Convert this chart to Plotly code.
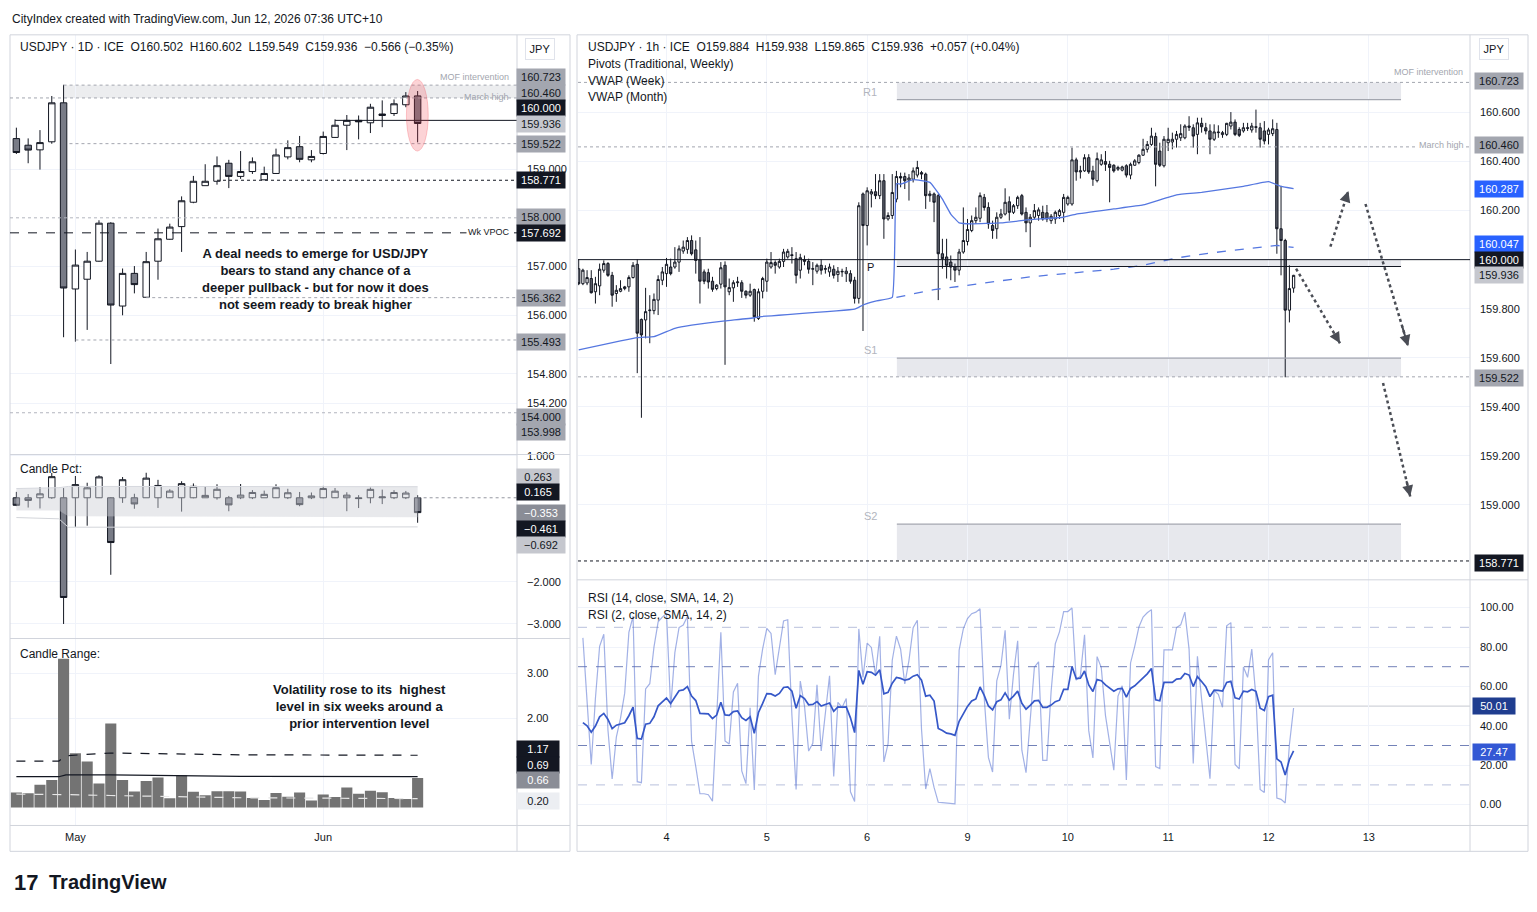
import plotly.graph_objects as go

W, H = 1537, 912
def fx(x): return x / W
def fy(y): return 1 - y / H

# ---------------- DAILY DATA (left chart) ----------------
d_x = list(range(1, 36))
d_open = [159.626, 159.49, 159.395, 159.56, 160.36, 156.54, 156.74, 157.11, 157.89, 156.19,
          156.86, 156.37, 157.11, 157.56, 157.82, 158.32, 158.66, 158.75, 159.12, 158.85,
          158.95, 158.78, 158.91, 159.25, 159.46, 159.19, 159.32, 159.65, 159.90, 160.00,
          159.95, 160.10, 160.14, 160.32, 160.502]
d_high = [159.85, 159.63, 159.80, 160.50, 160.73, 157.35, 157.30, 157.95, 157.91, 156.96,
          157.01, 157.30, 157.78, 157.88, 158.44, 158.86, 159.10, 159.26, 159.19, 159.37,
          159.24, 159.05, 159.42, 159.59, 159.68, 159.39, 159.77, 160.02, 160.11, 160.10,
          160.34, 160.41, 160.43, 160.58, 160.602]
d_low = [159.31, 159.12, 158.99, 159.52, 155.55, 155.46, 155.70, 157.10, 155.00, 156.00,
         156.45, 156.37, 156.73, 157.55, 157.30, 158.30, 158.66, 158.68, 158.61, 158.80,
         158.90, 158.78, 158.90, 159.20, 159.14, 159.14, 159.30, 159.64, 159.39, 159.61,
         159.74, 159.86, 160.09, 160.27, 159.549]
d_close = [159.34, 159.39, 159.544, 160.36, 156.56, 157.03, 157.11, 157.89, 156.21, 156.86,
           156.63, 157.10, 157.57, 157.81, 158.35, 158.75, 158.75, 159.07, 158.85, 158.95,
           159.15, 158.91, 159.29, 159.44, 159.20, 159.26, 159.67, 159.90, 160.00, 159.97,
           160.27, 160.13, 160.34, 160.50, 159.936]
month_ticks = [6, 27]
month_labels = ["May", "Jun"]

# Candle Pct band readings
pct_band_x = [1, 4.6, 5.4, 20, 35]
pct_band_up = [0.22, 0.24, 0.27, 0.27, 0.263]
pct_band_mid = [-0.30, -0.30, -0.44, -0.45, -0.461]
pct_band_low = [-0.47, -0.50, -0.70, -0.70, -0.692]

# Candle Range line readings
rng_line_x = [1, 4.6, 5.2, 9, 20, 35]
rng_dash = [1.04, 1.04, 1.16, 1.22, 1.18, 1.17]
rng_solid = [0.69, 0.69, 0.73, 0.73, 0.70, 0.69]
rng_light = [0.30, 0.30, 0.29, 0.27, 0.22, 0.20]

# ---------------- HOURLY DATA (right chart) ----------------
h_x = list(range(3, 175))
h_open = [
    159.963, 159.902, 159.905, 159.923, 159.869, 159.893, 159.957, 159.984, 159.936, 159.862,
    159.871, 159.882, 159.889, 159.927, 159.981, 159.756, 159.754, 159.792, 159.792, 159.835,
    159.916, 159.943, 159.970, 159.970, 159.990, 160.035, 160.042, 160.078, 160.040, 159.999,
    159.950, 159.947, 159.912, 159.882, 159.900, 159.977, 159.869, 159.885, 159.906, 159.906,
    159.871, 159.855, 159.878, 159.760, 159.871, 159.912, 159.970, 159.988, 159.970, 159.993,
    160.011, 160.020, 160.004, 159.957, 160.000, 159.993, 159.961, 159.953, 159.977, 159.961,
    159.950, 159.961, 159.939, 159.950, 159.943, 159.943, 159.916, 159.842, 160.268, 160.139,
    160.268, 160.277, 160.261, 160.322, 160.166, 160.180, 160.247, 160.339, 160.339, 160.324,
    160.328, 160.345, 160.355, 160.349, 160.261, 160.268, 160.261, 160.024, 160.011, 159.990,
    159.970, 159.957, 160.031, 160.074, 160.119, 160.159, 160.169, 160.254, 160.213, 160.139,
    160.126, 160.173, 160.186, 160.236, 160.193, 160.220, 160.261, 160.193, 160.150, 160.173,
    160.180, 160.193, 160.191, 160.159, 160.166, 160.180, 160.193, 160.227, 160.227, 160.407,
    160.358, 160.362, 160.416, 160.362, 160.322, 160.389, 160.400, 160.389, 160.385, 160.369,
    160.365, 160.383, 160.345, 160.385, 160.396, 160.426, 160.450, 160.470, 160.502, 160.443,
    160.383, 160.477, 160.480, 160.491, 160.497, 160.497, 160.545, 160.538, 160.511, 160.556,
    160.538, 160.525, 160.491, 160.518, 160.510, 160.511, 160.545, 160.561, 160.531, 160.525,
    160.538, 160.529, 160.542, 160.538, 160.525, 160.511, 160.514, 160.531, 160.126, 160.078,
    159.794, 159.884]
h_high = [
    160.001, 159.963, 159.957, 159.957, 159.930, 159.984, 159.997, 159.990, 159.950, 159.896,
    159.916, 159.893, 159.936, 159.990, 160.001, 159.760, 159.885, 159.855, 159.862, 159.936,
    159.970, 160.007, 160.004, 160.051, 160.058, 160.078, 160.092, 160.099, 160.078, 160.092,
    159.960, 159.963, 159.930, 159.900, 159.990, 159.993, 159.923, 159.916, 159.930, 159.916,
    159.875, 159.902, 159.882, 159.882, 159.930, 160.004, 160.031, 159.997, 160.004, 160.044,
    160.044, 160.051, 160.031, 160.024, 160.017, 160.004, 159.990, 159.984, 160.001, 159.977,
    159.984, 159.977, 159.970, 159.963, 159.970, 159.957, 159.930, 160.234, 160.274, 160.295,
    160.288, 160.349, 160.349, 160.349, 160.193, 160.349, 160.362, 160.355, 160.355, 160.349,
    160.376, 160.403, 160.362, 160.355, 160.281, 160.274, 160.268, 160.085, 160.085, 160.017,
    159.984, 160.044, 160.213, 160.166, 160.180, 160.213, 160.274, 160.268, 160.234, 160.159,
    160.193, 160.207, 160.291, 160.258, 160.227, 160.261, 160.268, 160.213, 160.186, 160.227,
    160.213, 160.220, 160.223, 160.186, 160.200, 160.207, 160.268, 160.261, 160.457, 160.416,
    160.383, 160.430, 160.430, 160.383, 160.437, 160.430, 160.443, 160.403, 160.389, 160.383,
    160.383, 160.389, 160.396, 160.410, 160.430, 160.493, 160.484, 160.538, 160.518, 160.477,
    160.504, 160.538, 160.518, 160.525, 160.552, 160.552, 160.585, 160.552, 160.579, 160.579,
    160.558, 160.552, 160.552, 160.548, 160.525, 160.558, 160.602, 160.572, 160.540, 160.558,
    160.558, 160.558, 160.612, 160.558, 160.565, 160.538, 160.572, 160.558, 160.301, 160.085,
    159.977, 159.938]
h_low = [
    159.896, 159.896, 159.896, 159.862, 159.821, 159.855, 159.947, 159.930, 159.808, 159.828,
    159.867, 159.875, 159.869, 159.923, 159.537, 159.355, 159.679, 159.659, 159.777, 159.774,
    159.896, 159.889, 159.936, 159.963, 159.950, 160.024, 160.024, 160.017, 159.943, 159.821,
    159.900, 159.882, 159.869, 159.875, 159.882, 159.571, 159.855, 159.828, 159.889, 159.844,
    159.842, 159.848, 159.747, 159.754, 159.842, 159.869, 159.963, 159.943, 159.963, 159.970,
    160.004, 159.984, 159.903, 159.923, 159.977, 159.943, 159.896, 159.943, 159.939, 159.943,
    159.930, 159.923, 159.909, 159.930, 159.909, 159.902, 159.821, 159.821, 159.709, 160.058,
    160.213, 160.247, 160.247, 160.085, 160.159, 160.166, 160.234, 160.295, 160.288, 160.241,
    160.315, 160.335, 160.328, 160.207, 160.236, 160.153, 159.835, 159.963, 159.923, 159.916,
    159.909, 159.936, 160.024, 160.058, 160.112, 160.146, 160.153, 160.200, 160.126, 160.085,
    160.085, 160.166, 160.180, 160.159, 160.186, 160.207, 160.180, 160.112, 160.051, 160.166,
    160.159, 160.159, 160.153, 160.146, 160.146, 160.166, 160.153, 160.220, 160.220, 160.322,
    160.331, 160.358, 160.350, 160.301, 160.315, 160.383, 160.362, 160.234, 160.355, 160.362,
    160.360, 160.335, 160.328, 160.383, 160.389, 160.423, 160.437, 160.464, 160.299, 160.378,
    160.376, 160.443, 160.450, 160.457, 160.484, 160.491, 160.525, 160.457, 160.430, 160.518,
    160.511, 160.430, 160.484, 160.497, 160.497, 160.504, 160.531, 160.504, 160.500, 160.518,
    160.525, 160.518, 160.518, 160.457, 160.470, 160.470, 160.504, 160.024, 159.936, 159.520,
    159.744, 159.865]
h_close = [
    159.902, 159.957, 159.927, 159.865, 159.902, 159.961, 159.984, 159.936, 159.855, 159.875,
    159.882, 159.889, 159.927, 159.977, 159.700, 159.693, 159.788, 159.794, 159.838, 159.919,
    159.950, 159.981, 159.943, 159.990, 160.044, 160.051, 160.078, 160.024, 159.997, 159.912,
    159.912, 159.909, 159.879, 159.896, 159.967, 159.889, 159.886, 159.906, 159.909, 159.871,
    159.855, 159.871, 159.767, 159.869, 159.923, 159.990, 159.988, 159.977, 159.993, 160.031,
    160.034, 160.017, 159.936, 160.008, 159.993, 159.961, 159.963, 159.977, 159.957, 159.963,
    159.970, 159.936, 159.953, 159.952, 159.953, 159.912, 159.842, 160.220, 160.139, 160.281,
    160.277, 160.261, 160.322, 160.166, 160.180, 160.274, 160.339, 160.333, 160.322, 160.333,
    160.362, 160.376, 160.349, 160.261, 160.268, 160.234, 160.024, 160.004, 159.977, 159.970,
    159.957, 160.031, 160.078, 160.123, 160.159, 160.173, 160.261, 160.213, 160.146, 160.119,
    160.173, 160.186, 160.234, 160.193, 160.220, 160.254, 160.186, 160.150, 160.173, 160.200,
    160.203, 160.166, 160.166, 160.177, 160.193, 160.200, 160.254, 160.254, 160.407, 160.358,
    160.362, 160.416, 160.358, 160.328, 160.412, 160.407, 160.389, 160.376, 160.362, 160.376,
    160.378, 160.345, 160.389, 160.403, 160.426, 160.450, 160.470, 160.504, 160.389, 160.385,
    160.491, 160.491, 160.491, 160.511, 160.514, 160.545, 160.540, 160.504, 160.558, 160.542,
    160.525, 160.491, 160.521, 160.520, 160.518, 160.556, 160.561, 160.511, 160.507, 160.538,
    160.536, 160.545, 160.540, 160.491, 160.484, 160.529, 160.534, 160.126, 160.078, 159.794,
    159.882, 159.936]

day_ticks = [24, 48, 72, 96, 120, 144, 168, 192]
day_labels = ["4", "5", "6", "9", "10", "11", "12", "13"]

vwap_week_x = [3, 17, 21, 26, 30, 38, 45, 46, 69, 71, 74, 78, 79, 80, 83, 85, 87, 88, 90, 92,
               94, 97, 104, 111, 119, 122, 131, 138, 146, 152, 162, 168, 171, 174]
vwap_week = [159.632, 159.682, 159.686, 159.720, 159.733, 159.750, 159.763, 159.767, 159.798,
             159.815, 159.831, 159.846, 160.310, 160.308, 160.326, 160.322, 160.315, 160.295,
             160.247, 160.186, 160.150, 160.146, 160.150, 160.163, 160.173, 160.186, 160.207,
             160.223, 160.264, 160.274, 160.299, 160.318, 160.299, 160.290]
vwap_month_x = [79, 88, 95, 111, 131, 138, 146, 154, 170, 174]
vwap_month = [159.846, 159.878, 159.893, 159.930, 159.961, 159.977, 160.007, 160.027, 160.058, 160.050]

# weekly pivots (level, zone edge)
pivot_names = ["R1", "P", "S1", "S2"]
pivot_levels = [160.653, 159.972, 159.598, 158.921]
pivot_zone_edge = [160.723, 160.000, 159.522, 158.775]
pivot_start, pivot_end = 79.1, 199.7

# projected path arrows (tail x, tail y, head x, head y)
arrows = [(174.6, 159.963, 185.1, 159.659),
          (182.8, 160.053, 187.1, 160.280),
          (191.2, 160.227, 201.4, 159.647),
          (195.4, 159.497, 201.9, 159.034)]

rsi14_last, rsi2_last = 27.47, 50.01

# ---------------- derived ----------------
pct_o = [0.0 for o in d_open]
pct_h = [(h - o) / o * 100 for h, o in zip(d_high, d_open)]
pct_l = [(l - o) / o * 100 for l, o in zip(d_low, d_open)]
pct_c = [(c - o) / o * 100 for c, o in zip(d_close, d_open)]
rng = [(h - l) / l * 100 for h, l in zip(d_high, d_low)]


def rsi(vals, n):
    diffs = [vals[i] - vals[i - 1] for i in range(1, len(vals))]
    g = [max(d, 0) for d in diffs]
    lo = [max(-d, 0) for d in diffs]
    ag = sum(g[:n]) / n
    al = sum(lo[:n]) / n
    out = [None]
    for i in range(len(diffs)):
        ag = (ag * (n - 1) + g[i]) / n
        al = (al * (n - 1) + lo[i]) / n
        out.append(100.0 if al == 0 else 100 - 100 / (1 + ag / al))
    return out


rsi14 = rsi(h_close, 14)
rsi2 = rsi(h_close, 2)

# ---------------- figure ----------------
TXT = "#131722"
GRID = "#f0f3fa"
FONT = "Liberation Sans"
BEAR = "#787b86"

fig = go.Figure()

cs_style = dict(increasing=dict(line=dict(color=TXT, width=1), fillcolor="#ffffff"),
                decreasing=dict(line=dict(color=TXT, width=1), fillcolor=BEAR),
                whiskerwidth=0, showlegend=False, hoverinfo="skip")

fig.add_trace(go.Candlestick(x=d_x, open=d_open, high=d_high, low=d_low, close=d_close,
                             xaxis="x", yaxis="y", **cs_style))

# candle pct band
fig.add_trace(go.Scatter(x=pct_band_x, y=pct_band_up, mode="lines", line=dict(color="#d6d8de", width=1),
                         xaxis="x2", yaxis="y2", showlegend=False, hoverinfo="skip"))
fig.add_trace(go.Scatter(x=pct_band_x, y=pct_band_mid, mode="lines", line=dict(color="rgba(0,0,0,0)", width=0),
                         fill="tonexty", fillcolor="rgba(205,207,213,0.45)",
                         xaxis="x2", yaxis="y2", showlegend=False, hoverinfo="skip"))
fig.add_trace(go.Scatter(x=pct_band_x, y=pct_band_low, mode="lines", line=dict(color="#d3d5da", width=1),
                         xaxis="x2", yaxis="y2", showlegend=False, hoverinfo="skip"))
fig.add_trace(go.Candlestick(x=d_x, open=pct_o, high=pct_h, low=pct_l, close=pct_c,
                             xaxis="x2", yaxis="y2", **cs_style))

# candle range
fig.add_trace(go.Bar(x=d_x, y=rng, marker=dict(color="#737373", line=dict(width=0)), width=0.94,
                     xaxis="x3", yaxis="y3", showlegend=False, hoverinfo="skip"))
fig.add_trace(go.Scatter(x=rng_line_x, y=rng_light, mode="lines", line=dict(color="#e6e6e6", width=1.2, dash="dash"),
                         xaxis="x3", yaxis="y3", showlegend=False, hoverinfo="skip"))
fig.add_trace(go.Scatter(x=rng_line_x, y=rng_solid, mode="lines", line=dict(color=TXT, width=1.2),
                         xaxis="x3", yaxis="y3", showlegend=False, hoverinfo="skip"))
fig.add_trace(go.Scatter(x=rng_line_x, y=rng_dash, mode="lines", line=dict(color=TXT, width=1.2, dash="dash"),
                         xaxis="x3", yaxis="y3", showlegend=False, hoverinfo="skip"))

# right: hourly
VW = "#5577e0"
fig.add_trace(go.Scatter(x=vwap_month_x, y=vwap_month, mode="lines", line=dict(color=VW, width=1.3, dash="dash"),
                         xaxis="x4", yaxis="y4", showlegend=False, hoverinfo="skip"))
fig.add_trace(go.Scatter(x=vwap_week_x, y=vwap_week, mode="lines", line=dict(color=VW, width=1.3, shape="spline", smoothing=0.3),
                         xaxis="x4", yaxis="y4", showlegend=False, hoverinfo="skip"))
fig.add_trace(go.Candlestick(x=h_x, open=h_open, high=h_high, low=h_low, close=h_close,
                             xaxis="x4", yaxis="y4",
                             increasing=dict(line=dict(color=TXT, width=1), fillcolor="#ffffff"),
                             decreasing=dict(line=dict(color=TXT, width=1), fillcolor="#5d606b"),
                             whiskerwidth=0, showlegend=False, hoverinfo="skip"))

# RSI
fig.add_trace(go.Scatter(x=h_x, y=rsi2, mode="lines", line=dict(color="rgba(70,100,205,0.5)", width=1.2),
                         xaxis="x5", yaxis="y5", showlegend=False, hoverinfo="skip"))
fig.add_trace(go.Scatter(x=h_x, y=rsi14, mode="lines", line=dict(color="#3658c8", width=1.7),
                         xaxis="x5", yaxis="y5", showlegend=False, hoverinfo="skip"))

# ---------------- axes ----------------
L_DOM = [fx(10), fx(517)]
R_DOM = [fx(578), fx(1470)]
L_XR = [0.46, 43.42]
R_XR = [2.83, 216.2]
tickfont = dict(family=FONT, size=11, color=TXT)

def xax(dom, rng_, anchor, tv, tt=None, labels=False):
    d = dict(domain=dom, range=rng_, anchor=anchor, showgrid=True, gridcolor=GRID, zeroline=False,
             showline=False, ticks="", tickvals=tv, showticklabels=labels, tickfont=tickfont,
             ticklabelstandoff=4, rangeslider=dict(visible=False), fixedrange=True)
    if tt is not None:
        d["ticktext"] = tt
    return d

def yax(dom, rng_, anchor, tv, tt):
    return dict(domain=dom, range=rng_, anchor=anchor, side="right", showgrid=True, gridcolor=GRID,
                zeroline=False, showline=False, ticks="", tickvals=tv, ticktext=tt, tickfont=tickfont,
                ticklabelstandoff=9, fixedrange=True)

left_ticks = [154.2, 154.8, 156.0, 157.0, 159.0]
right_ticks = [159.0, 159.2, 159.4, 159.6, 159.8, 160.0, 160.2, 160.4, 160.6]
fig.update_layout(
    xaxis=xax(L_DOM, L_XR, "y", month_ticks),
    xaxis2=xax(L_DOM, L_XR, "y2", month_ticks),
    xaxis3=xax(L_DOM, L_XR, "y3", month_ticks, month_labels, True),
    xaxis4=xax(R_DOM, R_XR, "y4", day_ticks),
    xaxis5=xax(R_DOM, R_XR, "y5", day_ticks, day_labels, True),
    yaxis=yax([fy(452), fy(30)], [153.143, 161.755], "x", left_ticks, [f"{v:.3f}" for v in left_ticks]),
    yaxis2=yax([fy(637), fy(452)], [-3.345, 1.028], "x2", [1, -2, -3], ["1.000", "\u22122.000", "\u22123.000"]),
    yaxis3=yax([fy(825), fy(637)], [-0.40, 3.78], "x3", [2, 3], ["2.00", "3.00"]),
    yaxis4=yax([fy(578), fy(30)], [158.694, 160.917], "x4", right_ticks, [f"{v:.3f}" for v in right_ticks]),
    yaxis5=yax([fy(825), fy(578)], [-10.6, 114.1], "x5", [0, 20, 40, 60, 80, 100],
               ["0.00", "20.00", "40.00", "60.00", "80.00", "100.00"]),
)

shapes = []
anns = []

def pline(x0, y0, x1, y1, color="#d1d4dc", width=1, dash=None):
    shapes.append(dict(type="line", xref="paper", yref="paper", x0=fx(x0), y0=fy(y0), x1=fx(x1), y1=fy(y1),
                       line=dict(color=color, width=width, dash=dash), layer="above"))

# frames
for (x0, y0, x1, y1) in [(10, 30, 570, 851), (577, 30, 1528, 851)]:
    shapes.append(dict(type="rect", xref="paper", yref="paper", x0=fx(x0), y0=fy(y0), x1=fx(x1), y1=fy(y1),
                       line=dict(color="#d1d4dc", width=1), layer="above"))
pline(517, 30, 517, 851)
pline(1470, 30, 1470, 851)
for yy in (452, 637, 825):
    pline(10, yy, 570, yy)
for yy in (578, 825):
    pline(577, yy, 1528, yy)

# left band MOF -> March high
shapes.append(dict(type="rect", xref="x", yref="y", x0=5, x1=L_XR[1], y0=160.46, y1=160.723,
                   fillcolor="rgba(200,202,210,0.35)", line=dict(width=0), layer="below"))
left_levels = [160.723, 160.460, 160.000, 159.522, 158.771, 158.000, 157.692, 156.362, 155.493, 154.000]
left_start = [5, 0.46, 28, 5.5, 18, 0.46, 0.46, 12, 6, 0.46]
left_col = ["#a3a6af", "#a3a6af", TXT, "#a3a6af", TXT, "#b2b5be", TXT, "#a3a6af", "#a3a6af", "#b2b5be"]
left_dash = ["dot", "dot", None, "dot", "dot", "dot", "dash", "dot", "dot", "dot"]
for lv, st, c, d in zip(left_levels, left_start, left_col, left_dash):
    shapes.append(dict(type="line", xref="x", yref="y", x0=st, x1=L_XR[1], y0=lv, y1=lv,
                       line=dict(color=c, width=1, dash=d), layer="above"))
# red ellipse
shapes.append(dict(type="circle", xref="x", yref="y", x0=34.05, x1=35.9, y0=159.37, y1=160.84,
                   fillcolor="rgba(242,54,69,0.22)", line=dict(color="rgba(242,54,69,0.25)", width=1), layer="above"))
# pct zero dotted
shapes.append(dict(type="line", xref="x2", yref="y2", x0=35, x1=L_XR[1], y0=0, y1=0,
                   line=dict(color="#9598a1", width=1, dash="dot"), layer="above"))

# right: pivot zones
for name, lv, edge in zip(pivot_names, pivot_levels, pivot_zone_edge):
    shapes.append(dict(type="rect", xref="x4", yref="y4", x0=pivot_start, x1=pivot_end,
                       y0=min(lv, edge), y1=max(lv, edge),
                       fillcolor="rgba(212,214,222,0.55)", line=dict(width=0), layer="below"))
    shapes.append(dict(type="line", xref="x4", yref="y4", x0=pivot_start, x1=pivot_end, y0=lv, y1=lv,
                       line=dict(color=(TXT if name == "P" else "#a3a6af"), width=1.2), layer="above"))
    anns.append(dict(x=72.7, y=lv, xref="x4", yref="y4", text=name, showarrow=False,
                     font=dict(family=FONT, size=11, color=(TXT if name == "P" else "#b2b5be")),
                     xanchor="center", yanchor="bottom" if name != "P" else "middle"))
right_levels = [160.723, 160.460, 160.000, 159.522, 158.771]
right_col = ["#a3a6af", "#a3a6af", TXT, "#a3a6af", TXT]
right_dash = ["dot", "dot", None, "dot", "dot"]
for lv, c, d in zip(right_levels, right_col, right_dash):
    shapes.append(dict(type="line", xref="x4", yref="y4", x0=R_XR[0], x1=R_XR[1], y0=lv, y1=lv,
                       line=dict(color=c, width=1, dash=d), layer="above"))

# arrows
for (tx, ty, hx, hy) in arrows:
    shapes.append(dict(type="line", xref="x4", yref="y4", x0=tx, y0=ty, x1=hx, y1=hy,
                       line=dict(color="#4a4d55", width=2.5, dash="dot"), layer="above"))
    anns.append(dict(x=hx, y=hy, ax=hx - 0.15 * (hx - tx), ay=hy - 0.15 * (hy - ty), xref="x4", yref="y4",
                     axref="x4", ayref="y4", text="", showarrow=True, arrowhead=2, arrowsize=1.1,
                     arrowwidth=2, arrowcolor="#4a4d55"))

# RSI levels
for lv, c, d in [(90, "#b8c0dc", "dash"), (70, "#7382b8", "dash"), (50, "#c5c8d0", None),
                 (30, "#7382b8", "dash"), (10, "#b8c0dc", "dash")]:
    shapes.append(dict(type="line", xref="x5", yref="y5", x0=R_XR[0], x1=R_XR[1], y0=lv, y1=lv,
                       line=dict(color=c, width=1, dash=d), layer="below"))

# ---------------- text ----------------
def txt(x, y, s, size=12, color=TXT, anchor="left", bold=False, fam=FONT, bg=None):
    a = dict(x=fx(x), y=fy(y), xref="paper", yref="paper", text=(f"<b>{s}</b>" if bold else s),
             showarrow=False, xanchor=anchor, yanchor="middle",
             font=dict(family=fam, size=size, color=color))
    if bg:
        a["bgcolor"] = bg
    anns.append(a)

txt(10, 14, "CityIndex created with TradingView.com, Jun 12, 2026 07:36 UTC+10", 12)
txt(18, 42, "USDJPY \u00b7 1D \u00b7 ICE  O160.502  H160.602  L159.549  C159.936  \u22120.566 (\u22120.35%)", 12)
txt(18, 467, "Candle Pct:", 12)
txt(18, 653, "Candle Range:", 12)
txt(586, 42, "USDJPY \u00b7 1h \u00b7 ICE  O159.884  H159.938  L159.865  C159.936  +0.057 (+0.04%)", 12)
txt(586, 59, "Pivots (Traditional, Weekly)", 12)
txt(586, 76, "VWAP (Week)", 12)
txt(586, 93, "VWAP (Month)", 12)
txt(586, 596, "RSI (14, close, SMA, 14, 2)", 12)
txt(586, 613, "RSI (2, close, SMA, 14, 2)", 12)
txt(511, 72, "MOF intervention", 9, "#a3a6af", "right")
txt(511, 93, "March high", 9, "#a3a6af", "right", bg="rgba(255,255,255,0)")
txt(512, 228, "Wk VPOC", 9, TXT, "right", bg="#ffffff")
txt(1465, 67, "MOF intervention", 9, "#a3a6af", "right")
txt(1466, 141, "March high", 9, "#a3a6af", "right", bg="#ffffff")

anns.append(dict(x=fx(315), y=fy(276), xref="paper", yref="paper", showarrow=False,
                 text="<b>A deal needs to emerge for USD/JPY<br>bears to stand any chance of a<br>"
                      "deeper pullback - but for now it does<br>not seem ready to break higher</b>",
                 align="center", xanchor="center", yanchor="middle",
                 font=dict(family=FONT, size=13, color=TXT)))
anns.append(dict(x=fx(359), y=fy(705), xref="paper", yref="paper", showarrow=False,
                 text="<b>Volatility rose to its  highest<br>level in six weeks around a<br>prior intervention level</b>",
                 align="center", xanchor="center", yanchor="middle",
                 font=dict(family=FONT, size=13, color=TXT)))

# TradingView logo
txt(12, 882, "17", 22, TXT, "left", True)
txt(47, 882, "TradingView", 20, TXT, "left", True)

# axis label boxes
def box(xc, y, s, bg, fg, w=46):
    anns.append(dict(x=fx(xc), y=fy(y), xref="paper", yref="paper", text=s, showarrow=False,
                     xanchor="center", yanchor="middle", bgcolor=bg, width=w, height=14, borderpad=1,
                     font=dict(family=FONT, size=11, color=fg)))

G1, G2, BLK, BLUE = "#a3a6af", "#c5c7ce", TXT, "#2962ff"
for xc in (540, 1494):
    anns.append(dict(x=fx(xc), y=fy(44), xref="paper", yref="paper", text="JPY", showarrow=False,
                     xanchor="center", yanchor="middle",
                     bgcolor="#ffffff", bordercolor="#e0e3eb", borderwidth=1, width=26, height=18,
                     font=dict(family=FONT, size=11, color=TXT)))
left_boxes = [("160.723", 72, G1, TXT), ("160.460", 88, G1, TXT), ("160.000", 104, BLK, "#ffffff"),
              ("159.936", 120, G2, TXT), ("159.522", 140, G1, TXT), ("158.771", 176, BLK, "#ffffff"),
              ("158.000", 213, G1, TXT), ("157.692", 229, BLK, "#ffffff"), ("156.362", 295, G1, TXT),
              ("155.493", 339, G1, TXT), ("154.000", 414, G1, TXT), ("153.998", 429, G1, TXT),
              ("0.263", 475, G2, TXT), ("0.165", 490, BLK, "#ffffff"), ("\u22120.353", 511, "#8a8d96", "#ffffff"),
              ("\u22120.461", 527, BLK, "#ffffff"), ("\u22120.692", 543, G2, TXT),
              ("1.17", 748, BLK, "#ffffff"), ("0.69", 764, BLK, "#ffffff"), ("0.66", 779, "#8a8d96", "#ffffff"),
              ("0.20", 800, "#eceef2", TXT)]
for s, y, bg, fg in left_boxes:
    w = 46 if len(s) > 5 else 40
    xc = 541 if len(s) > 4 and s[0] != "0" else 538
    box(xc, y, s, bg, fg, w)
right_boxes = [("160.723", 76, G1, TXT), ("160.460", 141, G1, TXT), ("160.287", 185, BLUE, "#ffffff"),
               ("160.047", 240, BLUE, "#ffffff"), ("160.000", 256, BLK, "#ffffff"), ("159.936", 271, G2, TXT),
               ("159.522", 375, G1, TXT), ("158.771", 561, BLK, "#ffffff"),
               (f"{rsi2_last:.2f}", 705, "#1f3d8f", "#ffffff"), (f"{rsi14_last:.2f}", 751, "#3358d4", "#ffffff")]
for s, y, bg, fg in right_boxes:
    box(1499 if len(s) > 5 else 1494, y, s, bg, fg, 46 if len(s) > 5 else 40)

fig.update_layout(width=W, height=H, margin=dict(l=0, r=0, t=0, b=0),
                  paper_bgcolor="#ffffff", plot_bgcolor="#ffffff",
                  shapes=shapes, annotations=anns, hovermode=False, showlegend=False,
                  bargap=0.05, boxgap=0.22, font=dict(family=FONT, color=TXT))

fig.write_html("out.html", config={"displayModeBar": False})
